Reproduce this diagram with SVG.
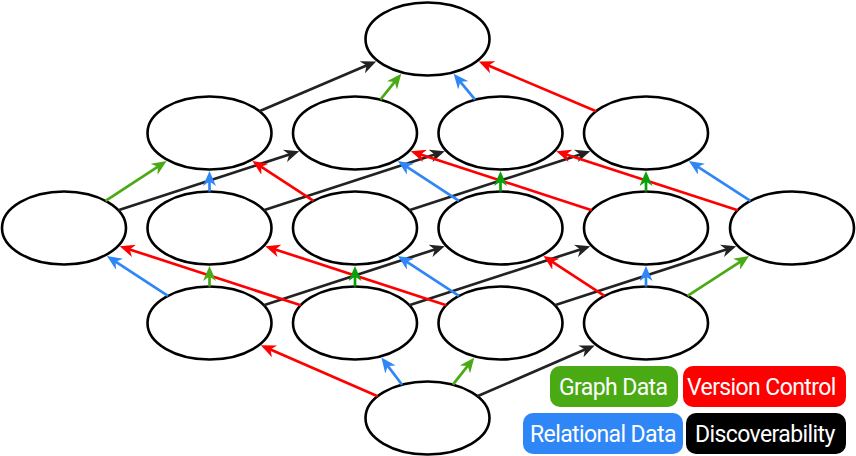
<svg xmlns="http://www.w3.org/2000/svg" width="856" height="456" viewBox="0 0 856 456">
<style>
.node{fill:#fff;stroke:#000;stroke-width:2.6}
.c{fill:none;stroke-width:2.7}
.r{stroke:#ff0000;marker-end:url(#ar)}
.b{stroke:#2f86f6;marker-end:url(#ab)}
.g{stroke:#4aaa14;marker-end:url(#ag)}
.g2{stroke:#0aa00a;marker-end:url(#ag2)}
.k{stroke:#222;marker-end:url(#ak)}
.lt{font-family:Roboto,"Liberation Sans",sans-serif;font-size:23px;letter-spacing:-0.6px;fill:#fff}
</style>
<defs>
<marker id="ar" markerUnits="userSpaceOnUse" markerWidth="15" markerHeight="13" refX="7" refY="6.5" orient="auto"><path d="M0,0 L15,6.5 L0,13 L4.5,6.5 Z" fill="#ff0000"/></marker>
<marker id="ab" markerUnits="userSpaceOnUse" markerWidth="15" markerHeight="13" refX="7" refY="6.5" orient="auto"><path d="M0,0 L15,6.5 L0,13 L4.5,6.5 Z" fill="#2f86f6"/></marker>
<marker id="ag" markerUnits="userSpaceOnUse" markerWidth="15" markerHeight="13" refX="7" refY="6.5" orient="auto"><path d="M0,0 L15,6.5 L0,13 L4.5,6.5 Z" fill="#4aaa14"/></marker>
<marker id="ag2" markerUnits="userSpaceOnUse" markerWidth="15" markerHeight="13" refX="7" refY="6.5" orient="auto"><path d="M0,0 L15,6.5 L0,13 L4.5,6.5 Z" fill="#0aa00a"/></marker>
<marker id="ak" markerUnits="userSpaceOnUse" markerWidth="15" markerHeight="13" refX="7" refY="6.5" orient="auto"><path d="M0,0 L15,6.5 L0,13 L4.5,6.5 Z" fill="#222"/></marker>
</defs>
<g id="n-top"><ellipse class="node" cx="427.5" cy="39" rx="62" ry="36.5"/></g>
<g id="n-rbg"><ellipse class="node" cx="209.5" cy="133" rx="62" ry="36.5"/></g>
<g id="n-rbk"><ellipse class="node" cx="355" cy="133" rx="62" ry="36.5"/></g>
<g id="n-rgk"><ellipse class="node" cx="500.5" cy="133" rx="62" ry="36.5"/></g>
<g id="n-bgk"><ellipse class="node" cx="646" cy="133" rx="62" ry="36.5"/></g>
<g id="n-rb"><ellipse class="node" cx="64" cy="228" rx="62" ry="36.5"/></g>
<g id="n-rg"><ellipse class="node" cx="209.5" cy="228" rx="62" ry="36.5"/></g>
<g id="n-bg"><ellipse class="node" cx="355" cy="228" rx="62" ry="36.5"/></g>
<g id="n-rk"><ellipse class="node" cx="500.5" cy="228" rx="62" ry="36.5"/></g>
<g id="n-bk"><ellipse class="node" cx="646" cy="228" rx="62" ry="36.5"/></g>
<g id="n-gk"><ellipse class="node" cx="792" cy="228" rx="62" ry="36.5"/></g>
<g id="n-r"><ellipse class="node" cx="209.5" cy="323" rx="62" ry="36.5"/></g>
<g id="n-b"><ellipse class="node" cx="355" cy="323" rx="62" ry="36.5"/></g>
<g id="n-g"><ellipse class="node" cx="500.5" cy="323" rx="62" ry="36.5"/></g>
<g id="n-k"><ellipse class="node" cx="646" cy="323" rx="62" ry="36.5"/></g>
<g id="n-bottom"><ellipse class="node" cx="427.5" cy="418" rx="62" ry="36.5"/></g>
<g id="connectors">
<line class="c r" x1="377.67" y1="396.28" x2="268.16" y2="348.57"/>
<line class="c b" x1="402.09" y1="384.71" x2="386.23" y2="363.93"/>
<line class="c g" x1="452.91" y1="384.71" x2="469.27" y2="363.93"/>
<line class="c k" x1="477.33" y1="396.28" x2="587.34" y2="348.57"/>
<line class="c b" x1="167.98" y1="295.89" x2="113.60" y2="260.38"/>
<line class="c k" x1="263.72" y1="305.30" x2="437.15" y2="248.68"/>
<line class="c r" x1="300.78" y1="305.30" x2="127.35" y2="248.68"/>
<line class="c k" x1="409.22" y1="305.30" x2="582.65" y2="248.68"/>
<line class="c r" x1="446.28" y1="305.30" x2="272.85" y2="248.68"/>
<line class="c b" x1="458.98" y1="295.89" x2="404.60" y2="260.38"/>
<line class="c k" x1="554.72" y1="305.30" x2="728.65" y2="248.68"/>
<line class="c r" x1="604.48" y1="295.89" x2="550.10" y2="260.38"/>
<line class="c g" x1="687.52" y1="295.89" x2="742.40" y2="260.38"/>
<line class="c g" x1="105.52" y1="200.89" x2="159.90" y2="165.38"/>
<line class="c k" x1="118.22" y1="210.30" x2="291.65" y2="153.68"/>
<line class="c k" x1="263.72" y1="210.30" x2="437.15" y2="153.68"/>
<line class="c r" x1="313.48" y1="200.89" x2="259.10" y2="165.38"/>
<line class="c k" x1="409.22" y1="210.30" x2="582.65" y2="153.68"/>
<line class="c b" x1="458.98" y1="200.89" x2="404.60" y2="165.38"/>
<line class="c r" x1="591.78" y1="210.30" x2="418.35" y2="153.68"/>
<line class="c r" x1="737.78" y1="210.30" x2="563.85" y2="153.68"/>
<line class="c b" x1="750.48" y1="200.89" x2="695.60" y2="165.38"/>
<line class="c k" x1="259.33" y1="111.28" x2="368.84" y2="64.57"/>
<line class="c g" x1="380.41" y1="99.71" x2="396.27" y2="79.93"/>
<line class="c b" x1="475.09" y1="99.71" x2="458.73" y2="79.93"/>
<line class="c r" x1="596.17" y1="111.28" x2="486.16" y2="64.57"/>
<line class="c g" x1="209.5" y1="286.5" x2="209.5" y2="274"/>
<line class="c g2" x1="355" y1="286.5" x2="355" y2="274"/>
<line class="c b" x1="646" y1="286.5" x2="646" y2="274"/>
<line class="c b" x1="209.5" y1="191.5" x2="209.5" y2="179"/>
<line class="c g2" x1="500.5" y1="191.5" x2="500.5" y2="179"/>
<line class="c g2" x1="646" y1="191.5" x2="646" y2="179"/>
</g>
<g id="legend">
<rect x="550" y="366" width="128" height="41" rx="10" fill="#4aaa14"/>
<text class="lt" x="559" y="395">Graph Data</text>
<rect x="683" y="366" width="163" height="41" rx="10" fill="#ff0000"/>
<text class="lt" x="687" y="395">Version Control</text>
<rect x="523" y="413" width="160" height="41" rx="10" fill="#2f86f6"/>
<text class="lt" x="530" y="442">Relational Data</text>
<rect x="686" y="413" width="160" height="41" rx="10" fill="#000"/>
<text class="lt" x="695" y="442">Discoverability</text>
</g>
</svg>
